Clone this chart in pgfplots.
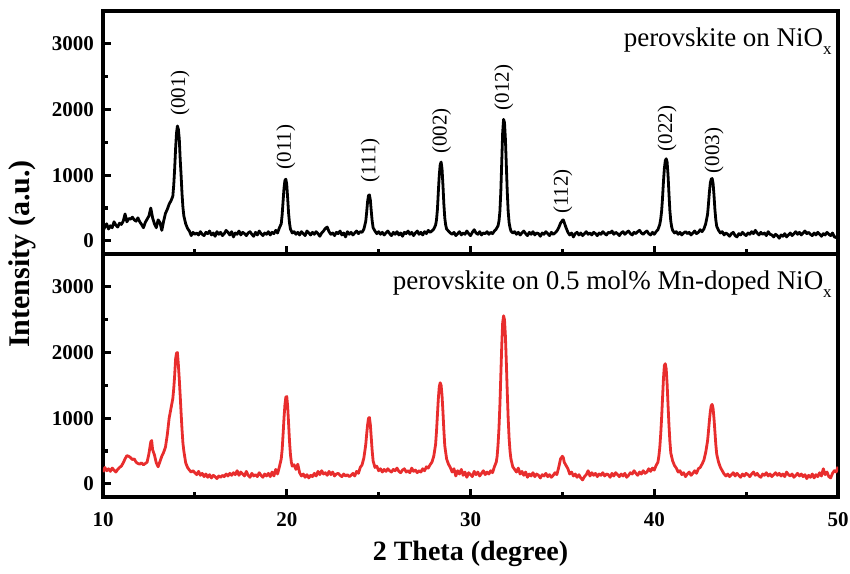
\documentclass[border=0pt]{standalone}
\usepackage{pgfplots}
\pgfplotsset{compat=1.18}
\usepackage{pgfplotstable}
\usepackage{fontspec}
\setmainfont{Liberation Serif}
\definecolor{xrdred}{RGB}{232,45,45}

\pgfplotstableread[row sep=\\]{x y\\
10.0 150\\ 10.1 210\\ 10.2 260\\ 10.3 180\\ 10.4 230\\ 10.5 200\\ 10.6 290\\ 10.7 240\\ 10.8 210\\ 10.9 270\\
11.0 250\\ 11.1 300\\ 11.2 410\\ 11.3 290\\ 11.4 340\\ 11.5 330\\ 11.6 360\\ 11.7 320\\ 11.8 300\\ 11.9 350\\
12.0 290\\ 12.1 250\\ 12.2 200\\ 12.3 280\\ 12.4 330\\ 12.5 380\\ 12.6 500\\ 12.7 350\\ 12.8 260\\ 12.9 200\\
13.0 320\\ 13.1 280\\ 13.2 160\\ 13.3 300\\ 13.4 420\\ 13.5 480\\ 13.6 560\\ 13.7 610\\ 13.8 680\\ 13.85 850\\
13.9 1100\\ 13.95 1400\\ 14.0 1640\\ 14.05 1750\\ 14.1 1700\\ 14.15 1560\\ 14.2 1250\\ 14.25 1000\\ 14.3 720\\ 14.35 510\\
14.4 380\\ 14.5 260\\ 14.6 190\\ 14.7 150\\ 14.8 80\\ 14.9 130\\ 15.0 100\\ 15.1 120\\ 15.2 90\\ 15.3 140\\
15.4 100\\ 15.5 80\\ 15.6 130\\ 15.7 110\\ 15.8 150\\ 15.9 90\\ 16.0 120\\ 16.1 70\\ 16.2 140\\ 16.3 100\\
16.4 130\\ 16.5 80\\ 16.6 110\\ 16.7 160\\ 16.8 130\\ 16.9 90\\ 17.0 140\\ 17.1 60\\ 17.2 120\\ 17.3 100\\
17.4 150\\ 17.5 90\\ 17.6 130\\ 17.7 110\\ 17.8 80\\ 17.9 120\\ 18.0 140\\ 18.1 100\\ 18.2 70\\ 18.3 130\\
18.4 90\\ 18.5 150\\ 18.6 110\\ 18.7 80\\ 18.8 120\\ 18.9 100\\ 19.0 140\\ 19.1 90\\ 19.2 130\\ 19.3 110\\
19.4 160\\ 19.5 120\\ 19.6 200\\ 19.7 260\\ 19.75 400\\ 19.8 600\\ 19.85 800\\ 19.9 920\\ 19.95 940\\ 20.0 860\\
20.05 650\\ 20.1 420\\ 20.15 270\\ 20.2 180\\ 20.3 120\\ 20.4 140\\ 20.5 100\\ 20.6 130\\ 20.7 90\\ 20.8 140\\
20.9 110\\ 21.0 80\\ 21.1 150\\ 21.2 120\\ 21.3 90\\ 21.4 130\\ 21.5 100\\ 21.6 140\\ 21.7 110\\ 21.8 70\\
21.9 120\\ 22.0 150\\ 22.1 190\\ 22.2 210\\ 22.3 140\\ 22.4 100\\ 22.5 120\\ 22.6 80\\ 22.7 130\\ 22.8 110\\
22.9 150\\ 23.0 90\\ 23.1 120\\ 23.2 60\\ 23.3 140\\ 23.4 100\\ 23.5 130\\ 23.6 90\\ 23.7 120\\ 23.8 150\\
23.9 110\\ 24.0 140\\ 24.1 130\\ 24.2 180\\ 24.3 300\\ 24.35 440\\ 24.4 600\\ 24.45 690\\ 24.5 700\\ 24.55 620\\
24.6 450\\ 24.65 300\\ 24.7 200\\ 24.8 150\\ 24.9 110\\ 25.0 140\\ 25.1 100\\ 25.2 130\\ 25.3 90\\ 25.4 120\\
25.5 150\\ 25.6 110\\ 25.7 80\\ 25.8 130\\ 25.9 100\\ 26.0 140\\ 26.1 90\\ 26.2 120\\ 26.3 70\\ 26.4 130\\
26.5 110\\ 26.6 150\\ 26.7 100\\ 26.8 130\\ 26.9 80\\ 27.0 120\\ 27.1 150\\ 27.2 100\\ 27.3 130\\ 27.4 90\\
27.5 140\\ 27.6 110\\ 27.7 160\\ 27.8 130\\ 27.9 150\\ 28.0 180\\ 28.1 240\\ 28.15 320\\ 28.2 480\\ 28.25 750\\
28.3 1000\\ 28.35 1160\\ 28.4 1200\\ 28.45 1100\\ 28.5 850\\ 28.55 560\\ 28.6 350\\ 28.65 240\\ 28.7 180\\ 28.8 150\\
28.9 120\\ 29.0 100\\ 29.1 130\\ 29.2 80\\ 29.3 110\\ 29.4 140\\ 29.5 90\\ 29.6 120\\ 29.7 100\\ 29.8 150\\
29.9 110\\ 30.0 80\\ 30.1 130\\ 30.2 170\\ 30.3 120\\ 30.4 100\\ 30.5 140\\ 30.6 90\\ 30.7 120\\ 30.8 110\\
30.9 140\\ 31.0 100\\ 31.1 130\\ 31.2 110\\ 31.3 150\\ 31.4 180\\ 31.5 230\\ 31.55 300\\ 31.6 450\\ 31.65 750\\
31.7 1200\\ 31.75 1650\\ 31.8 1850\\ 31.85 1800\\ 31.9 1550\\ 31.95 1150\\ 32.0 750\\ 32.05 450\\ 32.1 280\\ 32.15 200\\
32.2 150\\ 32.3 120\\ 32.4 140\\ 32.5 100\\ 32.6 130\\ 32.7 90\\ 32.8 120\\ 32.9 150\\ 33.0 110\\ 33.1 80\\
33.2 130\\ 33.3 100\\ 33.4 140\\ 33.5 90\\ 33.6 120\\ 33.7 110\\ 33.8 70\\ 33.9 120\\ 34.0 100\\ 34.1 140\\
34.2 110\\ 34.3 80\\ 34.4 130\\ 34.5 100\\ 34.6 120\\ 34.7 150\\ 34.8 200\\ 34.9 270\\ 35.0 310\\ 35.05 320\\
35.1 280\\ 35.2 200\\ 35.3 130\\ 35.4 90\\ 35.5 120\\ 35.6 60\\ 35.7 110\\ 35.8 130\\ 35.9 90\\ 36.0 120\\
36.1 80\\ 36.2 110\\ 36.3 140\\ 36.4 100\\ 36.5 120\\ 36.6 90\\ 36.7 130\\ 36.8 110\\ 36.9 80\\ 37.0 120\\
37.1 100\\ 37.2 140\\ 37.3 110\\ 37.4 90\\ 37.5 130\\ 37.6 120\\ 37.7 150\\ 37.8 100\\ 37.9 130\\ 38.0 110\\
38.1 80\\ 38.2 120\\ 38.3 140\\ 38.4 100\\ 38.5 130\\ 38.6 150\\ 38.7 110\\ 38.8 90\\ 38.9 130\\ 39.0 110\\
39.1 140\\ 39.2 160\\ 39.3 120\\ 39.4 100\\ 39.5 130\\ 39.6 150\\ 39.7 110\\ 39.8 90\\ 39.9 130\\ 40.0 100\\
40.1 140\\ 40.2 170\\ 40.3 250\\ 40.35 330\\ 40.4 450\\ 40.45 650\\ 40.5 900\\ 40.55 1100\\ 40.6 1220\\ 40.65 1250\\
40.7 1200\\ 40.75 1000\\ 40.8 720\\ 40.85 460\\ 40.9 300\\ 40.95 210\\ 41.0 160\\ 41.1 120\\ 41.2 140\\ 41.3 100\\
41.4 130\\ 41.5 90\\ 41.6 120\\ 41.7 140\\ 41.8 110\\ 41.9 130\\ 42.0 90\\ 42.1 120\\ 42.2 150\\ 42.3 110\\
42.4 130\\ 42.5 170\\ 42.6 140\\ 42.7 180\\ 42.8 260\\ 42.9 400\\ 42.95 560\\ 43.0 740\\ 43.05 880\\ 43.1 940\\
43.15 950\\ 43.2 880\\ 43.25 700\\ 43.3 480\\ 43.35 320\\ 43.4 220\\ 43.5 160\\ 43.6 120\\ 43.7 140\\ 43.8 90\\
43.9 120\\ 44.0 100\\ 44.1 70\\ 44.2 110\\ 44.3 130\\ 44.4 80\\ 44.5 60\\ 44.6 110\\ 44.7 90\\ 44.8 130\\
44.9 100\\ 45.0 80\\ 45.1 120\\ 45.2 100\\ 45.3 140\\ 45.4 110\\ 45.5 160\\ 45.6 120\\ 45.7 90\\ 45.8 130\\
45.9 100\\ 46.0 120\\ 46.1 80\\ 46.2 140\\ 46.3 100\\ 46.4 90\\ 46.5 60\\ 46.6 100\\ 46.7 80\\ 46.8 40\\
46.9 90\\ 47.0 70\\ 47.1 110\\ 47.2 60\\ 47.3 90\\ 47.4 120\\ 47.5 80\\ 47.6 110\\ 47.7 140\\ 47.8 100\\
47.9 130\\ 48.0 90\\ 48.1 120\\ 48.2 150\\ 48.3 110\\ 48.4 130\\ 48.5 100\\ 48.6 80\\ 48.7 120\\ 48.8 90\\
48.9 130\\ 49.0 100\\ 49.1 70\\ 49.2 110\\ 49.3 90\\ 49.4 130\\ 49.5 100\\ 49.6 80\\ 49.7 120\\ 49.8 60\\
49.9 50\\ 50.0 90\\
}\blackdata

\pgfplotstableread[row sep=\\]{x y\\
10.0 180\\ 10.1 250\\ 10.2 200\\ 10.3 230\\ 10.4 190\\ 10.5 240\\ 10.6 210\\ 10.7 180\\ 10.8 220\\ 10.9 250\\
11.0 270\\ 11.1 320\\ 11.2 380\\ 11.3 430\\ 11.4 420\\ 11.5 400\\ 11.6 370\\ 11.7 380\\ 11.8 330\\ 11.9 310\\
12.0 300\\ 12.1 320\\ 12.2 290\\ 12.3 310\\ 12.4 330\\ 12.5 460\\ 12.6 640\\ 12.65 660\\ 12.7 520\\ 12.8 440\\
12.9 320\\ 13.0 260\\ 13.1 340\\ 13.2 420\\ 13.3 480\\ 13.4 560\\ 13.5 750\\ 13.6 1000\\ 13.7 1150\\ 13.8 1300\\
13.85 1450\\ 13.9 1650\\ 13.95 1900\\ 14.0 1990\\ 14.05 2000\\ 14.1 1820\\ 14.15 1600\\ 14.2 1350\\ 14.25 1080\\ 14.3 830\\
14.35 620\\ 14.4 500\\ 14.5 320\\ 14.6 250\\ 14.7 210\\ 14.8 180\\ 14.9 200\\ 15.0 170\\ 15.1 140\\ 15.2 190\\
15.3 130\\ 15.4 160\\ 15.5 110\\ 15.6 150\\ 15.7 100\\ 15.8 140\\ 15.9 90\\ 16.0 130\\ 16.1 110\\ 16.2 80\\
16.3 120\\ 16.4 100\\ 16.5 130\\ 16.6 110\\ 16.7 150\\ 16.8 120\\ 16.9 160\\ 17.0 130\\ 17.1 170\\ 17.2 140\\
17.3 200\\ 17.4 130\\ 17.5 180\\ 17.6 150\\ 17.7 120\\ 17.8 190\\ 17.9 130\\ 18.0 100\\ 18.1 160\\ 18.2 120\\
18.3 140\\ 18.4 110\\ 18.5 170\\ 18.6 130\\ 18.7 100\\ 18.8 150\\ 18.9 120\\ 19.0 160\\ 19.1 110\\ 19.2 180\\
19.3 120\\ 19.4 220\\ 19.5 150\\ 19.6 260\\ 19.7 380\\ 19.75 520\\ 19.8 750\\ 19.85 1000\\ 19.9 1200\\ 19.95 1320\\
20.0 1330\\ 20.05 1180\\ 20.1 920\\ 20.15 650\\ 20.2 450\\ 20.25 330\\ 20.3 270\\ 20.4 290\\ 20.5 220\\ 20.6 300\\
20.7 170\\ 20.8 120\\ 20.9 150\\ 21.0 100\\ 21.1 140\\ 21.2 90\\ 21.3 130\\ 21.4 110\\ 21.5 160\\ 21.6 120\\
21.7 190\\ 21.8 140\\ 21.9 200\\ 22.0 150\\ 22.1 170\\ 22.2 130\\ 22.3 190\\ 22.4 140\\ 22.5 180\\ 22.6 120\\
22.7 150\\ 22.8 160\\ 22.9 130\\ 23.0 110\\ 23.1 150\\ 23.2 120\\ 23.3 140\\ 23.4 110\\ 23.5 130\\ 23.6 160\\
23.7 120\\ 23.8 190\\ 23.9 160\\ 24.0 250\\ 24.1 290\\ 24.2 400\\ 24.3 600\\ 24.35 760\\ 24.4 900\\ 24.45 1000\\
24.5 1010\\ 24.55 900\\ 24.6 700\\ 24.65 500\\ 24.7 350\\ 24.8 250\\ 24.9 270\\ 25.0 200\\ 25.1 230\\ 25.2 180\\
25.3 220\\ 25.4 190\\ 25.5 230\\ 25.6 200\\ 25.7 180\\ 25.8 220\\ 25.9 200\\ 26.0 240\\ 26.1 190\\ 26.2 170\\
26.3 210\\ 26.4 230\\ 26.5 180\\ 26.6 200\\ 26.7 170\\ 26.8 240\\ 26.9 190\\ 27.0 210\\ 27.1 170\\ 27.2 200\\
27.3 180\\ 27.4 230\\ 27.5 200\\ 27.6 260\\ 27.7 240\\ 27.8 290\\ 27.9 330\\ 28.0 420\\ 28.1 600\\ 28.15 800\\
28.2 1050\\ 28.25 1300\\ 28.3 1480\\ 28.35 1540\\ 28.4 1500\\ 28.45 1350\\ 28.5 1100\\ 28.55 820\\ 28.6 580\\ 28.7 380\\
28.8 300\\ 28.9 250\\ 29.0 180\\ 29.1 230\\ 29.2 120\\ 29.3 200\\ 29.4 150\\ 29.5 220\\ 29.6 130\\ 29.7 180\\
29.8 100\\ 29.9 170\\ 30.0 140\\ 30.1 110\\ 30.2 190\\ 30.3 140\\ 30.4 180\\ 30.5 120\\ 30.6 160\\ 30.7 200\\
30.8 140\\ 30.9 180\\ 31.0 150\\ 31.1 200\\ 31.2 170\\ 31.3 260\\ 31.4 330\\ 31.45 420\\ 31.5 600\\ 31.55 850\\
31.6 1200\\ 31.65 1650\\ 31.7 2100\\ 31.75 2450\\ 31.8 2560\\ 31.85 2500\\ 31.9 2250\\ 31.95 1850\\ 32.0 1400\\ 32.05 1000\\
32.1 700\\ 32.15 500\\ 32.2 380\\ 32.3 260\\ 32.4 220\\ 32.5 180\\ 32.6 240\\ 32.7 150\\ 32.8 190\\ 32.9 130\\
33.0 180\\ 33.1 100\\ 33.2 150\\ 33.3 120\\ 33.4 170\\ 33.5 110\\ 33.6 150\\ 33.7 130\\ 33.8 90\\ 33.9 140\\
34.0 120\\ 34.1 160\\ 34.2 110\\ 34.3 140\\ 34.4 100\\ 34.5 130\\ 34.6 170\\ 34.7 140\\ 34.8 250\\ 34.9 380\\
35.0 420\\ 35.05 400\\ 35.1 330\\ 35.2 280\\ 35.3 230\\ 35.4 150\\ 35.5 180\\ 35.6 120\\ 35.7 150\\ 35.8 100\\
35.9 140\\ 36.0 90\\ 36.1 60\\ 36.2 110\\ 36.3 140\\ 36.4 200\\ 36.5 120\\ 36.6 170\\ 36.7 130\\ 36.8 160\\
36.9 110\\ 37.0 150\\ 37.1 130\\ 37.2 170\\ 37.3 120\\ 37.4 150\\ 37.5 140\\ 37.6 100\\ 37.7 160\\ 37.8 120\\
37.9 170\\ 38.0 140\\ 38.1 110\\ 38.2 150\\ 38.3 120\\ 38.4 160\\ 38.5 100\\ 38.6 130\\ 38.7 170\\ 38.8 150\\
38.9 200\\ 39.0 160\\ 39.1 130\\ 39.2 180\\ 39.3 150\\ 39.4 200\\ 39.5 160\\ 39.6 180\\ 39.7 230\\ 39.8 190\\
39.9 240\\ 40.0 210\\ 40.1 280\\ 40.2 330\\ 40.25 420\\ 40.3 550\\ 40.35 750\\ 40.4 1000\\ 40.45 1300\\ 40.5 1600\\
40.55 1800\\ 40.6 1830\\ 40.65 1750\\ 40.7 1520\\ 40.75 1200\\ 40.8 900\\ 40.85 650\\ 40.9 470\\ 41.0 350\\ 41.1 280\\
41.2 240\\ 41.3 180\\ 41.4 200\\ 41.5 140\\ 41.6 170\\ 41.7 110\\ 41.8 150\\ 41.9 180\\ 42.0 130\\ 42.1 160\\
42.2 200\\ 42.3 160\\ 42.4 230\\ 42.5 250\\ 42.6 300\\ 42.7 360\\ 42.8 480\\ 42.9 650\\ 42.95 800\\ 43.0 960\\
43.05 1100\\ 43.1 1190\\ 43.15 1210\\ 43.2 1150\\ 43.25 1000\\ 43.3 800\\ 43.35 600\\ 43.4 450\\ 43.5 330\\ 43.6 250\\
43.7 200\\ 43.8 150\\ 43.9 120\\ 44.0 150\\ 44.1 110\\ 44.2 140\\ 44.3 170\\ 44.4 120\\ 44.5 160\\ 44.6 130\\
44.7 100\\ 44.8 150\\ 44.9 120\\ 45.0 160\\ 45.1 140\\ 45.2 110\\ 45.3 150\\ 45.4 180\\ 45.5 130\\ 45.6 160\\
45.7 120\\ 45.8 100\\ 45.9 150\\ 46.0 130\\ 46.1 170\\ 46.2 120\\ 46.3 150\\ 46.4 110\\ 46.5 140\\ 46.6 170\\
46.7 130\\ 46.8 160\\ 46.9 120\\ 47.0 150\\ 47.1 110\\ 47.2 180\\ 47.3 140\\ 47.4 120\\ 47.5 150\\ 47.6 100\\
47.7 130\\ 47.8 160\\ 47.9 120\\ 48.0 150\\ 48.1 110\\ 48.2 140\\ 48.3 80\\ 48.4 130\\ 48.5 100\\ 48.6 150\\
48.7 90\\ 48.8 140\\ 48.9 110\\ 49.0 170\\ 49.1 120\\ 49.2 230\\ 49.3 140\\ 49.4 180\\ 49.5 110\\ 49.6 90\\
49.7 160\\ 49.8 200\\ 49.9 180\\ 50.0 260\\
}\reddata

\pgfplotsset{
  xrdpanel/.style={
    scale only axis, width=367.5pt, height=121.5pt,
    xmin=10, xmax=50, ymin=-200, ymax=3500,
    xtick={10,20,30,40,50}, minor x tick num=1,
    ytick={0,1000,2000,3000}, minor y tick num=1,
    xtick pos=bottom, ytick pos=left,
    tick align=inside,
    major tick length=4pt, minor tick length=2.6pt,
    axis line style={line width=1.6pt},
    every tick/.style={black, line width=1.6pt},
    scaled y ticks=false,
    /pgf/number format/assume math mode=true,
    /pgf/number format/set thousands separator={},
    tick label style={font=\fontsize{10.5}{12}\selectfont\bfseries},
    yticklabel style={xshift=-1pt},
    clip=true,
  },
}
\tikzset{
  hkl/.style={rotate=90, font=\fontsize{10.5}{12}\selectfont, inner sep=0pt, anchor=center},
  sample/.style={font=\fontsize{13.5}{15}\selectfont, inner sep=0pt, anchor=base east},
}
\newcommand{\subx}{\raisebox{-3.6pt}{\fontsize{8.5}{9}\selectfont x}}

\begin{document}
\begin{tikzpicture}
\path[use as bounding box] (-51.5pt,5.5pt) rectangle (373.5pt,-281pt);
\begin{axis}[xrdpanel, name=top, at={(0pt,0pt)}, anchor=north west, xticklabels={}]
  \addplot[black, line width=1.4pt, line join=round] table[x=x, y=y] {\blackdata};
  \node[hkl] at (axis cs:14.2,2253) {(001)};
  \node[hkl] at (axis cs:19.95,1430) {(011)};
  \node[hkl] at (axis cs:24.55,1230) {(111)};
  \node[hkl] at (axis cs:28.43,1675) {(002)};
  \node[hkl] at (axis cs:31.82,2336) {(012)};
  \node[hkl] at (axis cs:35.03,750) {(112)};
  \node[hkl] at (axis cs:40.7,1712) {(022)};
  \node[hkl] at (axis cs:43.25,1377) {(003)};
  \node[sample] at (axis description cs:0.992,0.852) {perovskite on NiO\subx};
\end{axis}
\begin{axis}[xrdpanel, name=bottom, at={(top.south west)}, anchor=north west,
  xlabel={2 Theta (degree)}, ylabel={Intensity (a.u.)},
  xlabel style={at={(axis description cs:0.5,-0.235)}, anchor=center, font=\fontsize{14}{16}\selectfont\bfseries},
  ylabel style={at={(axis description cs:-0.110,1.0)}, anchor=center, font=\fontsize{15}{17}\selectfont\bfseries},
  xticklabel style={yshift=-4pt}]
  \addplot[xrdred, line width=1.4pt, line join=round] table[x=x, y=y] {\reddata};
  \node[sample] at (axis description cs:0.992,0.852) {perovskite on 0.5 mol\% Mn-doped NiO\subx};
\end{axis}
\end{tikzpicture}
\end{document}
